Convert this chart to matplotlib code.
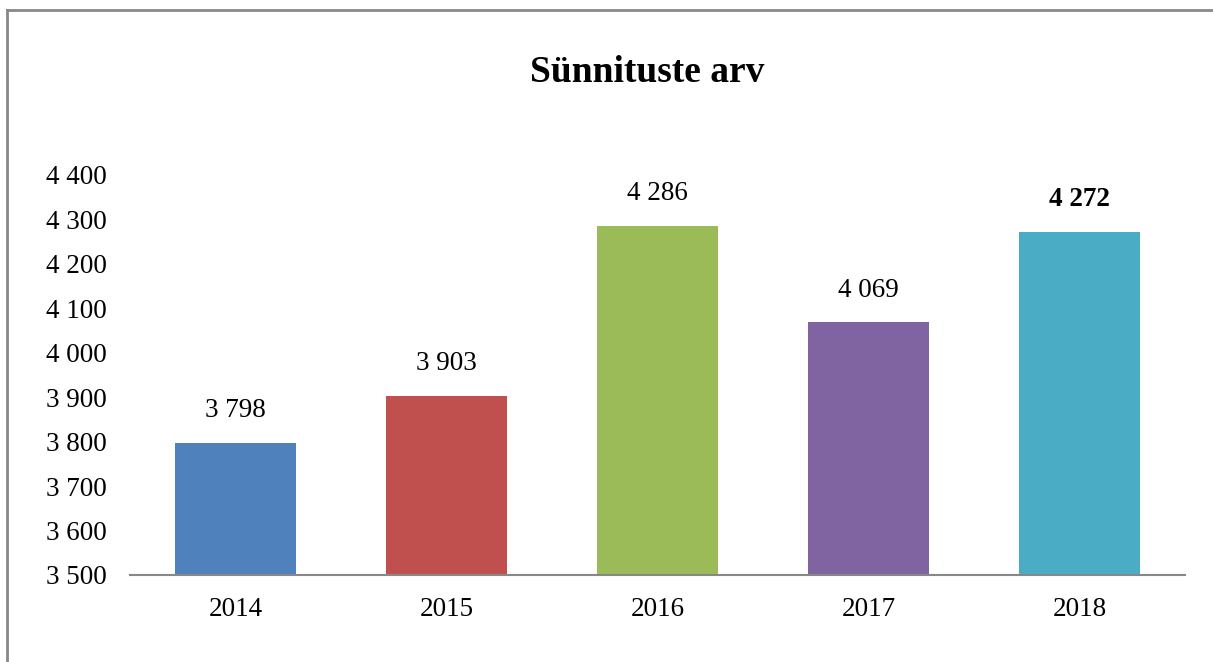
import matplotlib.pyplot as plt
from matplotlib.lines import Line2D

years = ['2014', '2015', '2016', '2017', '2018']
births = [3798, 3903, 4286, 4069, 4272]
colors = ['#4F81BD', '#C0504D', '#9BBB59', '#8064A2', '#4BACC6']
yticks = [3500, 3600, 3700, 3800, 3900, 4000, 4100, 4200, 4300, 4400]


def fmt(v):
    return f'{v:,}'.replace(',', ' ')


plt.rcParams['font.family'] = ['Liberation Serif', 'DejaVu Serif']
fs = 19.5

fig = plt.figure(figsize=(12.13, 6.62), dpi=100)
ax = fig.add_axes([130 / 1213, 1 - 575 / 662, 1055 / 1213, 400 / 662])

x = range(len(years))
ax.bar(x, births, width=0.57, color=colors)
ax.set_xlim(-0.5, len(years) - 0.5)
ax.set_ylim(3500, 4400)
ax.set_yticks(yticks)
ax.set_yticklabels([fmt(v) for v in yticks], fontsize=fs)
ax.set_xticks(list(x))
ax.set_xticklabels(years, fontsize=fs)
ax.tick_params(axis='both', length=0)
ax.tick_params(axis='x', pad=16)
ax.tick_params(axis='y', pad=17)

for s in ['top', 'right', 'left']:
    ax.spines[s].set_visible(False)
ax.spines['bottom'].set_color('#888888')
ax.spines['bottom'].set_linewidth(1.5)

for i, v in enumerate(births):
    bold = i == len(births) - 1
    ax.annotate(fmt(v), (i, v), xytext=(0, 14), textcoords='offset points',
                ha='center', va='bottom', fontsize=fs,
                fontweight='bold' if bold else 'normal')

fig.text(647 / 1213, 1 - 73 / 662, 'Sünnituste arv', ha='center', va='center',
         fontsize=27, fontweight='bold')

# chart frame (left and top edges visible)
fig.add_artist(Line2D([7 / 1213, 7 / 1213], [0, 1 - 10 / 662],
                      transform=fig.transFigure, color='#888888', lw=2))
fig.add_artist(Line2D([7 / 1213, 1], [1 - 10 / 662, 1 - 10 / 662],
                      transform=fig.transFigure, color='#888888', lw=2))

fig.savefig('out.png', dpi=100)
